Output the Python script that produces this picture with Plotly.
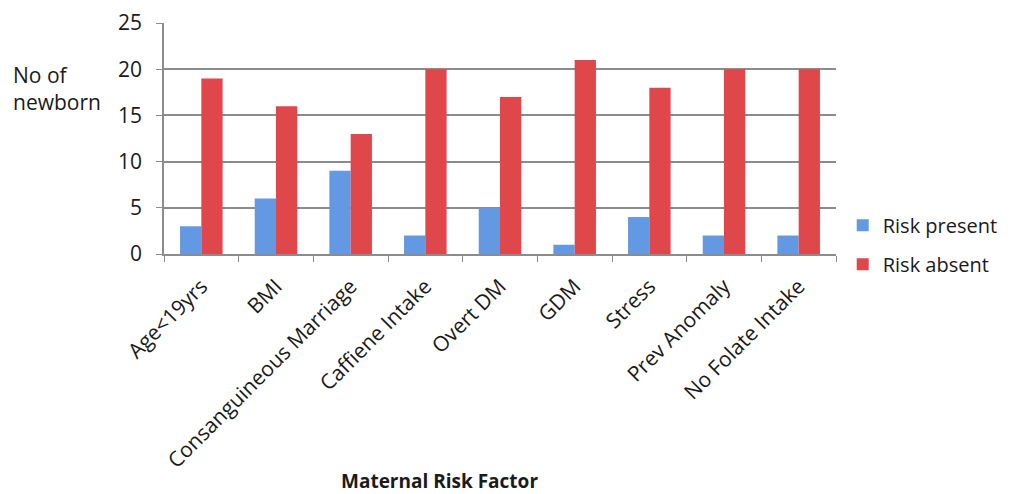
import plotly.graph_objects as go

categories = ["Age<19yrs", "BMI", "Consanguineous Marriage", "Caffiene Intake",
              "Overt DM", "GDM", "Stress", "Prev Anomaly", "No Folate Intake"]
risk_present = [3, 6, 9, 2, 5, 1, 4, 2, 2]
risk_absent = [19, 16, 13, 20, 17, 21, 18, 20, 20]
y_ticks = [0, 5, 10, 15, 20, 25]

FONT = "Open Sans"
TEXT = "#1a1a1a"
AXIS = "#8c8c8c"

fig = go.Figure()
fig.add_trace(go.Bar(x=categories, y=risk_present, name="Risk present",
                     legendgroup="present",
                     marker=dict(color="#6399e3", line=dict(width=0))))
fig.add_trace(go.Bar(x=categories, y=risk_absent, name="Risk absent",
                     legendgroup="absent",
                     marker=dict(color="#e0474b", line=dict(width=0))))

fig.update_layout(
    width=1017, height=494,
    margin=dict(l=164, r=181, t=23, b=240),
    paper_bgcolor="white", plot_bgcolor="white",
    barmode="group", bargap=0.43, bargroupgap=0,
    font=dict(family=FONT, color=TEXT),
    legend=dict(x=1.01, y=0.04, xanchor="left", yanchor="middle",
                font=dict(size=20, family=FONT, color=TEXT), itemwidth=30,
                traceorder="grouped", tracegroupgap=10,
                bgcolor="rgba(0,0,0,0)"),
    xaxis=dict(tickangle=-45, tickfont=dict(size=21, family=FONT, color=TEXT),
               ticks="outside", tickson="boundaries", ticklen=6,
               tickcolor=AXIS, showline=True, linecolor=AXIS,
               linewidth=1.5, showgrid=False, ticklabelstandoff=10,
               automargin=False),
    yaxis=dict(range=[0, 25], tickvals=y_ticks,
               tickfont=dict(size=21, family=FONT, color=TEXT),
               ticks="outside", ticklen=6, tickcolor=AXIS,
               showline=True, linecolor=AXIS, linewidth=1.5,
               showgrid=True, gridcolor=AXIS, gridwidth=1.5,
               zeroline=False, ticklabelstandoff=10, automargin=False),
)

fig.add_annotation(text="No of<br>newborn", xref="paper", yref="paper",
                   x=-0.227, y=0.715, xanchor="left", yanchor="middle",
                   align="left", showarrow=False,
                   font=dict(size=21, family=FONT, color=TEXT))
fig.add_annotation(text="<b>Maternal Risk Factor</b>", xref="paper", yref="paper",
                   x=0.41, y=-0.983, xanchor="center", yanchor="middle",
                   showarrow=False, font=dict(size=19, family=FONT, color=TEXT))

fig.write_html("out.html")
